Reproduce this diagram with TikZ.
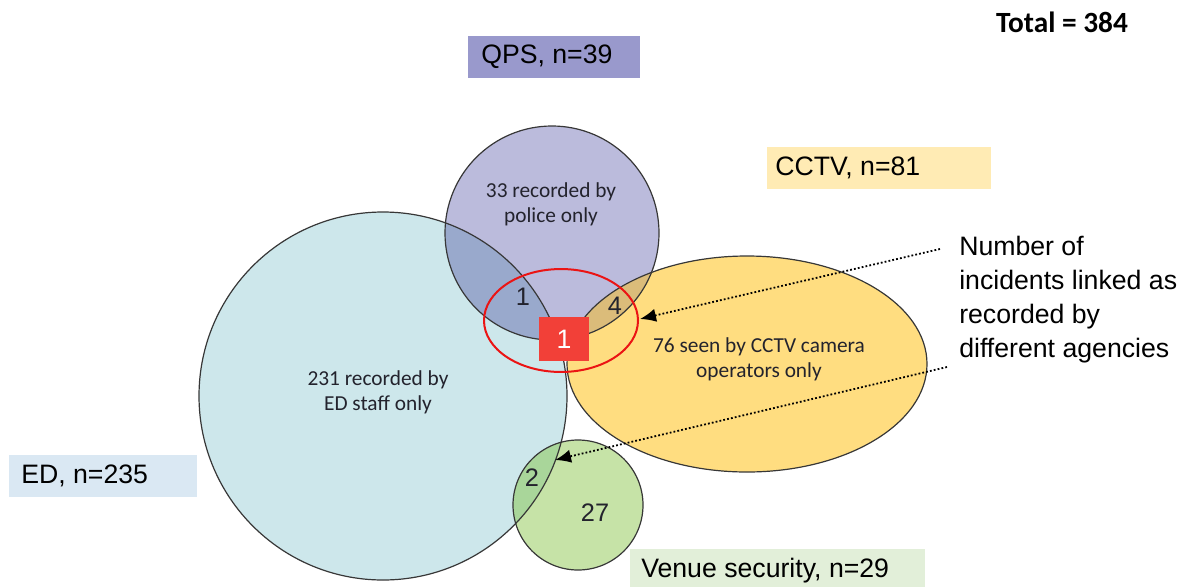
\documentclass[tikz,border=0pt]{standalone}
\usepackage{fontspec}
\setmainfont{Liberation Sans}
\newfontfamily\calibfont{Carlito}
\usetikzlibrary{arrows.meta}
\definecolor{edfill}{RGB}{205,231,235}
\definecolor{qpsfill}{RGB}{187,187,220}
\definecolor{cctvfill}{RGB}{255,221,128}
\definecolor{venuefill}{RGB}{198,227,167}
\definecolor{edqps}{RGB}{153,169,204}
\definecolor{qpscctv}{RGB}{219,188,122}
\definecolor{edvenue}{RGB}{169,214,154}
\definecolor{outline}{RGB}{55,55,55}
\definecolor{qpsbox}{RGB}{153,153,204}
\definecolor{cctvbox}{RGB}{255,235,180}
\definecolor{edbox}{RGB}{218,232,243}
\definecolor{venuebox}{RGB}{226,239,217}
\definecolor{redmark}{RGB}{242,64,56}
\definecolor{redring}{RGB}{235,20,20}
\definecolor{innertext}{RGB}{35,35,45}
\tikzset{
  setline/.style={draw=outline, line width=0.9pt},
  labelbox/.style={minimum height=31.5pt, inner sep=0pt},
  labeltext/.style={anchor=west, inner sep=0pt, font=\fontsize{20}{24}\selectfont},
  inner/.style={align=center, text=innertext, inner sep=0pt, font=\calibfont\fontsize{16}{19}\selectfont},
  count/.style={inner sep=0pt, text=innertext, font=\fontsize{19}{22}\selectfont},
  pointer/.style={line width=1.35pt, dash pattern=on 1.35pt off 1.6pt, -{Latex[length=12pt,width=10pt]}},
}
\begin{document}
\begin{tikzpicture}[x=0.75pt, y=-0.75pt]
\useasboundingbox (0,0) rectangle (1184,586);
% set centres
\coordinate (edc) at (383,396);
\coordinate (qpsc) at (552,233);
\coordinate (cctvc) at (747,364);
\coordinate (venc) at (578,505);
% fills
\fill[edfill] (edc) circle (138pt);
\fill[qpsfill] (qpsc) circle (80.25pt);
\fill[cctvfill] (cctvc) ellipse [x radius=135pt, y radius=81pt];
\fill[venuefill] (venc) circle (48.75pt);
% overlaps
\begin{scope}
  \clip (edc) circle (138pt);
  \fill[edqps] (qpsc) circle (80.25pt);
  \fill[edvenue] (venc) circle (48.75pt);
\end{scope}
\begin{scope}
  \clip (qpsc) circle (80.25pt);
  \fill[qpscctv] (cctvc) ellipse [x radius=135pt, y radius=81pt];
\end{scope}
% outlines
\draw[setline] (edc) circle (138pt);
\draw[setline] (qpsc) circle (80.25pt);
\draw[setline] (cctvc) ellipse [x radius=135pt, y radius=81pt];
\draw[setline] (venc) circle (48.75pt);
% inner texts
\node[inner] (edtxt) at (378,392) {231 recorded by\\ED staff only};
\node[inner] (qpstxt) at (551,204) {33 recorded by\\police only};
\node[inner] (cctvtxt) at (759,359) {76 seen by CCTV camera\\operators only};
% counts
\node[count] (n1) at (523,297) {1};
\node[count] (n4) at (615,306) {4};
\node[count] (n2) at (532,478) {2};
\node[count] (n27) at (595,513) {27};
% red ring and mark
\draw[redring, line width=1.5pt] (561,320.5) ellipse [x radius=57.75pt, y radius=38.6pt];
\node[fill=redmark, minimum width=37.5pt, minimum height=33pt, inner sep=0pt,
      text=white, font=\fontsize{20}{24}\selectfont] (n1all) at (564,339) {1};
% label boxes
\node[labelbox, fill=qpsbox, minimum width=129pt] (qpsbox) at (554,57) {};
\node[labeltext] (qpslab) at (481,57) {QPS, n=39};
\node[labelbox, fill=cctvbox, minimum width=168pt] (cctvbox) at (879,167.5) {};
\node[labeltext] (cctvlab) at (775,167.5) {CCTV, n=81};
\node[labelbox, fill=edbox, minimum width=141pt] (edbox) at (103,476) {};
\node[labeltext] (edlab) at (21,476) {ED, n=235};
\node[fill=venuebox, minimum width=221pt, minimum height=35pt, inner sep=0pt] (venbox) at (777.5,572) {};
\node[labeltext] (venlab) at (641,571) {Venue security, n=29};
% total
\node[font=\calibfont\bfseries\fontsize{22}{26}\selectfont, inner sep=0pt] (total) at (1062,22.5) {Total = 384};
% annotation
\node[anchor=west, align=left, inner sep=0pt, font=\fontsize{20}{25.5}\selectfont] (note) at (959,300)
  {Number of\\incidents linked as\\recorded by\\different agencies};
\coordinate (from1) at (940,249);
\coordinate (to1) at (640,319);
\coordinate (from2) at (947,367);
\coordinate (to2) at (555,460);
\draw[pointer] (from1) -- (to1);
\draw[pointer] (from2) -- (to2);
\end{tikzpicture}
\end{document}
